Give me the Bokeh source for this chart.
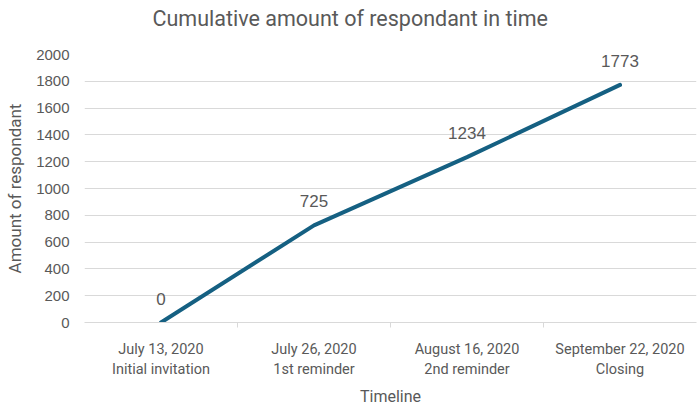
from bokeh.plotting import figure
from bokeh.models import ColumnDataSource, FixedTicker, LabelSet, Range1d, Title
from bokeh.core.properties import value
from bokeh.embed import file_html
from bokeh.resources import INLINE

dates = ["July 13, 2020", "July 26, 2020", "August 16, 2020", "September 22, 2020"]
events = ["Initial invitation", "1st reminder", "2nd reminder", "Closing"]
respondents = [0, 725, 1234, 1773]
y_ticks = list(range(0, 2001, 200))
title_text = "Cumulative amount of respondant in time"

n = len(dates)
pos = [i + 0.5 for i in range(n)]
src = ColumnDataSource(dict(x=pos, y=respondents, lab=[str(v) for v in respondents]))

GREY = "#595959"
GRID = "#d9d9d9"
NARROW = "Roboto"

p = figure(width=700, height=408, output_backend="svg", toolbar_location=None,
           x_range=Range1d(0, n), y_range=Range1d(0, 2000),
           min_border_left=84, min_border_right=4, min_border_top=54, min_border_bottom=86)
p.outline_line_color = None

p.title.text = title_text
p.title.text_font = NARROW
p.title.text_font_size = "21.5px"
p.title.text_font_style = "normal"
p.title.text_color = GREY
p.title.align = "left"
p.title.offset = 68
p.title.standoff = 2

# spacer between the title and the frame, pushes the title upward
spacer = Title(text=" ", text_font_size="1px", standoff=20)
p.add_layout(spacer, "above")

p.xgrid.visible = False
p.ygrid.grid_line_color = GRID
p.ygrid.grid_line_width = 1

ya = p.yaxis[0]
ya.ticker = FixedTicker(ticks=y_ticks)
ya.axis_line_color = None
ya.major_tick_line_color = None
ya.major_tick_out = 0
ya.minor_tick_line_color = None
ya.minor_tick_out = 0
ya.major_label_standoff = 15
ya.major_label_text_font = "Liberation Sans"
ya.major_label_text_font_size = "15px"
ya.major_label_text_color = GREY
ya.axis_label = "Amount of respondant"
ya.axis_label_text_font = NARROW
ya.axis_label_text_font_size = "17px"
ya.axis_label_text_font_style = "normal"
ya.axis_label_text_color = GREY
ya.axis_label_standoff = 8

xa = p.xaxis[0]
xa.ticker = FixedTicker(ticks=pos, minor_ticks=list(range(1, n)))
xa.major_label_overrides = {pos[i]: dates[i] + "\n" + events[i] for i in range(n)}
xa.axis_line_color = GRID
xa.major_tick_line_color = None
xa.major_tick_out = 0
xa.minor_tick_line_color = GRID
xa.minor_tick_in = 0
xa.minor_tick_out = 5
xa.major_label_standoff = 13
xa.major_label_text_font = NARROW
xa.major_label_text_font_size = "14.5px"
xa.major_label_text_color = GREY
xa.axis_label = "Timeline"
xa.axis_label_text_font = NARROW
xa.axis_label_text_font_size = "16px"
xa.axis_label_text_font_style = "normal"
xa.axis_label_text_color = GREY
xa.axis_label_standoff = 6

p.line("x", "y", source=src, line_color="#156082", line_width=4, line_cap="round")

labels = LabelSet(x="x", y="y", text="lab", source=src, y_offset=24,
                  text_align="center", text_baseline="middle",
                  text_font=value("Liberation Sans"), text_font_size="17px",
                  text_color=GREY)
p.add_layout(labels)

open("out.html", "w").write(file_html(p, INLINE))
